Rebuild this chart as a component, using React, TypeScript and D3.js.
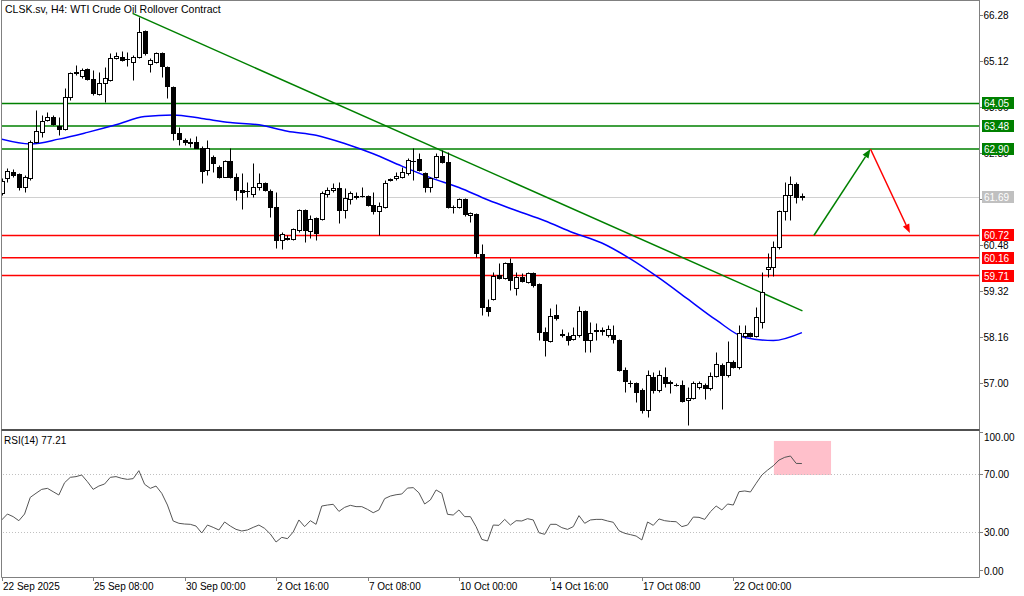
import React from 'react';
import * as d3 from 'd3';

// ---- DATA ----
const opens = [61.79,62.17,62.32,62.27,61.94,62.17,63.08,63.33,63.63,63.71,
63.48,63.41,64.21,64.84,64.74,64.92,64.67,64.29,64.57,64.64,
65.20,65.22,65.17,65.09,65.22,65.88,65.04,65.09,65.32,64.97,
64.46,63.30,63.13,63.08,63.08,62.93,62.37,62.70,62.45,62.20,
62.60,62.20,61.87,61.84,61.77,61.94,62.04,61.84,61.44,60.61,
60.66,60.63,60.86,61.36,60.83,61.16,61.14,61.77,61.87,61.92,
61.36,61.64,61.72,61.72,61.72,61.49,61.34,61.44,62.12,62.17,
62.20,62.30,62.60,62.65,62.30,61.94,62.20,62.72,62.57,61.44,
61.44,61.64,61.24,61.26,60.25,58.92,59.12,59.72,59.65,60.03,
59.40,59.67,59.55,59.77,59.50,58.29,58.06,58.72,58.24,58.19,
58.11,58.21,58.82,58.09,58.31,58.31,58.21,58.21,58.09,57.33,
57.00,57.00,56.82,56.32,57.15,56.82,57.15,57.03,56.95,56.95,
56.57,56.62,56.90,56.95,56.88,57.18,57.46,57.20,57.53,57.40,
58.19,58.26,58.19,58.54,59.88,59.93,60.43,61.34,61.74,62.02,61.72];
const highs = [62.17,62.42,62.40,62.30,62.25,63.13,63.88,63.76,63.83,63.76,
63.71,64.44,64.84,65.02,64.94,64.94,64.89,64.84,64.97,65.32,
65.35,65.37,65.35,65.27,66.23,65.90,65.20,65.35,65.35,64.99,
64.48,63.46,63.18,63.18,63.23,62.98,63.13,62.75,62.50,62.62,
62.93,62.30,62.30,62.07,62.55,62.30,62.07,61.89,61.82,60.81,
60.73,60.91,61.39,61.39,61.24,61.19,61.84,61.94,62.04,62.07,
61.92,61.84,61.82,61.94,61.74,61.82,61.57,62.12,62.17,62.32,
62.45,62.67,62.93,62.80,62.32,62.20,62.80,62.88,62.83,61.49,
61.67,61.67,61.31,61.29,60.51,59.12,59.80,60.03,60.05,60.15,
59.80,59.77,59.80,59.80,59.52,58.41,58.89,58.99,58.36,58.29,
58.41,58.94,58.84,58.54,58.51,58.41,58.46,58.46,58.11,57.40,
57.08,57.03,56.88,57.33,57.28,57.33,57.40,57.08,57.00,57.08,
56.90,57.05,57.05,57.00,57.28,57.78,57.51,58.06,57.58,58.46,
58.46,58.29,58.92,59.80,60.28,60.58,61.36,62.07,62.22,62.07,61.79];
const lows = [61.74,62.07,62.20,61.87,61.82,62.12,63.05,63.20,63.61,63.51,
63.25,63.38,64.14,64.77,64.69,64.64,64.26,64.26,64.09,64.62,
65.17,65.12,64.99,64.64,65.20,65.27,64.84,65.07,64.72,64.19,
63.13,63.00,63.00,62.95,62.93,62.04,62.25,62.32,62.17,62.20,
62.17,61.62,61.39,61.69,61.69,61.87,61.84,61.19,60.41,60.38,
60.61,60.61,60.81,60.56,60.66,60.61,61.11,61.69,61.82,61.04,
61.16,61.52,61.64,61.69,61.46,61.26,60.73,61.41,62.09,62.12,
62.17,62.25,62.12,62.35,61.82,61.82,62.17,62.55,61.41,61.29,
61.41,61.21,61.06,60.18,58.72,58.69,59.09,59.62,59.62,59.35,
59.22,59.55,59.52,59.42,58.09,57.68,58.03,58.59,58.16,57.96,
58.09,58.16,57.78,57.78,58.09,58.21,58.16,58.01,57.30,56.77,
56.90,56.52,56.25,56.14,56.75,56.77,56.90,56.75,56.93,56.52,
55.94,56.60,56.85,56.60,56.82,57.15,56.35,57.15,57.38,57.35,
58.14,58.16,58.16,58.39,59.67,59.70,60.38,61.11,61.11,61.54,61.62];
const closes = [62.09,62.35,62.25,61.94,62.20,63.08,63.36,63.61,63.71,63.53,
63.41,64.21,64.82,64.82,64.89,64.67,64.31,64.57,64.69,65.20,
65.25,65.15,65.16,65.22,65.85,65.32,65.15,65.32,64.99,64.49,
63.30,63.15,63.08,63.05,62.93,62.35,62.93,62.55,62.20,62.60,
62.20,61.87,61.82,61.83,61.94,62.04,61.87,61.44,60.61,60.76,
60.63,60.88,61.36,60.86,61.14,60.78,61.79,61.87,61.92,61.36,
61.67,61.79,61.70,61.71,61.49,61.34,61.46,62.04,62.15,62.22,
62.32,62.62,62.61,62.37,61.94,62.17,62.72,62.57,61.44,61.43,
61.64,61.26,61.29,60.28,58.92,58.82,59.70,59.65,60.03,59.60,
59.67,59.57,59.77,59.47,58.29,58.09,58.69,58.64,58.21,58.09,
58.21,58.82,58.09,58.26,58.34,58.34,58.36,58.11,57.33,57.05,
56.99,56.77,56.32,57.20,56.82,57.20,57.00,57.00,56.94,56.55,
56.62,57.00,57.00,56.88,57.18,57.48,57.20,57.53,57.40,58.26,
58.26,58.19,58.67,59.30,59.93,60.43,61.34,61.74,62.02,61.69,61.69];

const rsiValues = [38.3,42.4,40.6,37.8,42.4,53.9,56.7,59.4,60.1,57.8,
55.5,64.0,67.7,68.2,69.3,64.7,59.4,61.7,63.1,67.7,
68.2,67.0,66.3,66.8,72.3,62.9,60.1,61.7,56.7,48.6,
37.6,36.0,35.5,35.3,34.1,29.3,34.8,33.2,31.4,36.9,
34.1,31.8,30.7,31.4,33.2,34.8,32.5,28.6,23.1,26.3,
25.4,30.0,38.3,33.7,37.8,35.3,47.9,48.6,49.1,44.2,
47.0,48.4,47.5,47.5,45.6,43.3,45.2,53.0,54.8,55.7,
56.2,60.3,60.6,57.0,49.3,52.1,59.0,56.7,42.2,41.7,
45.2,40.6,40.6,33.7,24.9,23.8,34.8,34.6,38.7,34.8,
37.8,37.6,39.2,38.3,29.5,28.4,35.3,35.3,33.0,31.8,
33.7,41.3,36.0,38.3,38.7,38.7,37.6,36.7,30.9,29.1,
28.2,27.2,24.5,36.9,34.6,39.0,37.8,37.3,37.1,33.7,
34.8,40.3,40.1,38.7,44.0,47.9,45.2,49.3,48.6,57.8,
58.3,57.6,63.6,69.3,72.7,75.7,79.6,81.5,82.4,77.3,77.21];

// moving average, sampled every 5 bars (bar 0, 5, 10 ... 140)
const maStep = 5;
const maValues = [63.15,63.03,63.15,63.32,63.51,63.72,63.76,63.67,63.57,63.51,
63.35,63.25,63.04,62.78,62.47,62.18,61.93,61.62,61.35,61.09,
60.79,60.53,60.13,59.65,59.12,58.59,58.15,58.07,58.27];

const greenLevels = [64.05, 63.48, 62.90];
const redLevels = [60.72, 60.16, 59.71];
const lastPrice = 61.69;
const priceTicks = [66.28, 65.12, 63.96, 62.80, 61.64, 60.48, 59.32, 58.16, 57.00];
const rsiTicks = [100, 70, 30, 0];
const rsiLevels = [70, 30];
const timeLabelBars = [0, 16, 32, 48, 64, 80, 96, 112, 128];
const timeLabels = ['22 Sep 2025', '25 Sep 08:00', '30 Sep 00:00', '2 Oct 16:00', '7 Oct 08:00',
  '10 Oct 00:00', '14 Oct 16:00', '17 Oct 08:00', '22 Oct 00:00'];
// trend line [bar, price]
const trendLine: [number, number][] = [[22.9, 66.32], [140.1, 58.82]];
const upArrow: [number, number][] = [[142.1, 60.72], [152.0, 62.90]];
const downArrow: [number, number][] = [[152.0, 62.90], [158.9, 60.78]];
const rsiBox = { from: 135.1, to: 145.1, top: 92.8, bottom: 69.3 };

const FONT = "'Liberation Sans', Arial, sans-serif";

export default function App() {
  const W = 1024, H = 596;
  const axisX = 979.5;
  const mainTop = 0.5, mainBottom = 429.5;
  const rsiTop = 430.5, rsiBottom = 577.5;

  const x = d3.scaleLinear().domain([0, 128]).range([1.7, 733.3]);
  const y = d3.scaleLinear().domain([57.0, 66.28]).range([383, 15]);
  const yr = d3.scaleLinear().domain([0, 100]).range([575.5, 430.5]);

  const snap = (v: number) => Math.round(v) + 0.5;

  const maLine = d3.line<number>()
    .x((_, i) => x(i * maStep))
    .y((d) => y(d))
    .curve(d3.curveMonotoneX)(maValues) || '';

  const rsiLine = d3.line<number>()
    .x((_, i) => x(i))
    .y((d) => yr(d))(rsiValues) || '';

  const arrow = (pts: [number, number][], color: string) => {
    const x1 = x(pts[0][0]), y1 = y(pts[0][1]);
    const x2 = x(pts[1][0]), y2 = y(pts[1][1]);
    const dx = x2 - x1, dy = y2 - y1;
    const len = Math.hypot(dx, dy);
    const ux = dx / len, uy = dy / len;
    const hl = 9, hw = 3.5;
    const bx = x2 - ux * hl, by = y2 - uy * hl;
    const p1 = [bx - uy * hw, by + ux * hw];
    const p2 = [bx + uy * hw, by - ux * hw];
    return (
      <g>
        <line x1={x1} y1={y1} x2={bx} y2={by} stroke={color} strokeWidth={1.5} />
        <polygon points={`${x2},${y2} ${p1[0]},${p1[1]} ${p2[0]},${p2[1]}`} fill={color} />
      </g>
    );
  };

  const candles = opens.map((o, i) => {
    const c = closes[i];
    const px = Math.round(x(i));
    const wx = px + 0.5;
    const top = snap(y(Math.max(o, c)));
    const bot = snap(y(Math.min(o, c)));
    const up = c >= o;
    return (
      <g key={i}>
        <line x1={wx} x2={wx} y1={snap(y(highs[i]))} y2={snap(y(lows[i]))} stroke="#000" strokeWidth={1} />
        {bot - top < 1 ? (
          <line x1={px - 2} x2={px + 3} y1={top} y2={top} stroke="#000" strokeWidth={1} />
        ) : (
          <rect x={px - 1.5} y={top} width={4} height={bot - top} fill={up ? '#fff' : '#000'} stroke="#000" strokeWidth={1} />
        )}
      </g>
    );
  });

  const labelBox = (v: number, bg: string, key: string) => (
    <g key={key}>
      <rect x={982} y={Math.round(y(v)) - 6} width={32} height={12} fill={bg} />
      <text x={984} y={Math.round(y(v)) + 4} fontSize={10} fill="#fff" fontFamily={FONT}>{v.toFixed(2)}</text>
    </g>
  );

  return (
    <svg width={W} height={H} style={{ position: 'absolute', left: 0, top: 0, background: '#fff' }}>
      <defs>
        <clipPath id="mainClip"><rect x={2} y={1} width={977.5} height={428} /></clipPath>
        <clipPath id="rsiClip"><rect x={2} y={431} width={977.5} height={146} /></clipPath>
      </defs>
      <rect x={0} y={0} width={W} height={H} fill="#fff" />

      {/* main panel */}
      <g clipPath="url(#mainClip)">
        <line x1={0} x2={axisX} y1={snap(y(lastPrice))} y2={snap(y(lastPrice))} stroke="#d0d0d0" strokeWidth={1} />
        {greenLevels.map((v) => (
          <line key={'g' + v} x1={0} x2={axisX} y1={y(v)} y2={y(v)} stroke="#008000" strokeWidth={1.5} />
        ))}
        {redLevels.map((v) => (
          <line key={'r' + v} x1={0} x2={axisX} y1={y(v)} y2={y(v)} stroke="#ff0000" strokeWidth={1.5} />
        ))}
        <path d={maLine} fill="none" stroke="#0000ff" strokeWidth={1.5} />
        <line x1={x(trendLine[0][0])} y1={y(trendLine[0][1])} x2={x(trendLine[1][0])} y2={y(trendLine[1][1])} stroke="#008000" strokeWidth={1.5} />
        {candles}
        {arrow(upArrow, '#008000')}
        {arrow(downArrow, '#ff0000')}
      </g>
      <text x={5} y={13} fontSize={10.5} fontFamily={FONT} fill="#000">CLSK.sv, H4:  WTI Crude Oil Rollover Contract</text>

      {/* rsi panel */}
      <g clipPath="url(#rsiClip)">
        <rect x={x(rsiBox.from)} y={yr(rsiBox.top)} width={x(rsiBox.to) - x(rsiBox.from)} height={yr(rsiBox.bottom) - yr(rsiBox.top)} fill="#ffc0cb" />
        {rsiLevels.map((v) => (
          <line key={'rl' + v} x1={0} x2={axisX} y1={snap(yr(v))} y2={snap(yr(v))} stroke="#c0c0c0" strokeDasharray="1,2" strokeWidth={1} />
        ))}
        <path d={rsiLine} fill="none" stroke="#555" strokeWidth={1} />
      </g>
      <text x={4} y={444} fontSize={10} fontFamily={FONT} fill="#000">RSI(14) {rsiValues[rsiValues.length - 1].toFixed(2)}</text>

      {/* frames */}
      <line x1={1.5} x2={1.5} y1={0} y2={rsiBottom} stroke="#808080" />
      <line x1={axisX} x2={axisX} y1={0} y2={rsiBottom} stroke="#808080" />
      <line x1={1.5} x2={axisX} y1={mainTop} y2={mainTop} stroke="#808080" />
      <line x1={1.5} x2={axisX} y1={mainBottom} y2={mainBottom} stroke="#505050" />
      <line x1={1.5} x2={axisX} y1={rsiTop} y2={rsiTop} stroke="#505050" />
      <line x1={1.5} x2={axisX} y1={rsiBottom} y2={rsiBottom} stroke="#808080" />

      {/* price axis */}
      {priceTicks.map((v) => (
        <g key={'pt' + v}>
          <line x1={axisX} x2={983} y1={snap(y(v))} y2={snap(y(v))} stroke="#808080" />
          <text x={983.5} y={Math.round(y(v)) + 4} fontSize={10} fontFamily={FONT} fill="#000">{v.toFixed(2)}</text>
        </g>
      ))}
      {greenLevels.map((v) => labelBox(v, '#008000', 'gl' + v))}
      {labelBox(lastPrice, '#c0c0c0', 'last')}
      {redLevels.map((v) => labelBox(v, '#ff0000', 'rl' + v))}

      {/* rsi axis */}
      {rsiTicks.map((v) => {
        const ty = Math.min(Math.max(yr(v), 437), 571);
        return (
          <g key={'rt' + v}>
            <line x1={axisX} x2={983} y1={snap(yr(v) < 432 ? 432 : yr(v) > 574 ? 570 : yr(v))} y2={snap(yr(v) < 432 ? 432 : yr(v) > 574 ? 570 : yr(v))} stroke="#808080" />
            <text x={984} y={Math.round(ty) + 4} fontSize={10} fontFamily={FONT} fill="#000">{v.toFixed(2)}</text>
          </g>
        );
      })}

      {/* time axis */}
      {timeLabelBars.map((b, i) => (
        <g key={'tl' + b}>
          <line x1={snap(x(b))} x2={snap(x(b))} y1={rsiBottom} y2={581} stroke="#808080" />
          <text x={Math.round(x(b)) + 1} y={590} fontSize={10} fontFamily={FONT} fill="#000">{timeLabels[i]}</text>
        </g>
      ))}
    </svg>
  );
}
